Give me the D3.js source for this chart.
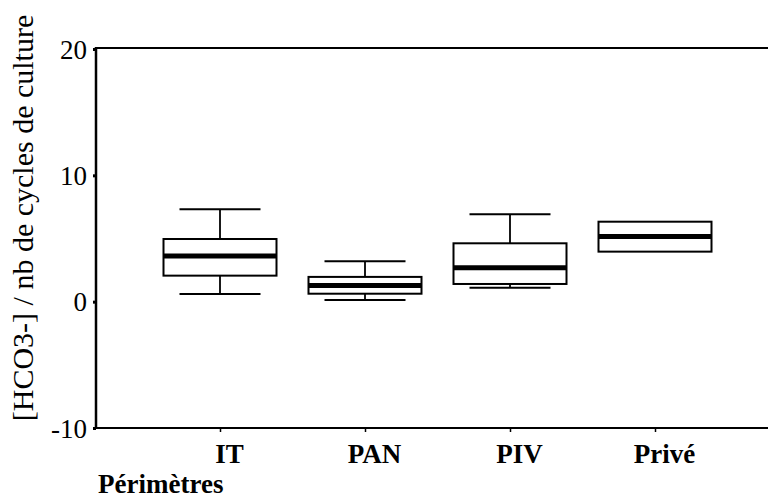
<!DOCTYPE html>
<html><head><meta charset="utf-8">
<script src="https://cdn.jsdelivr.net/npm/d3@7"></script>
<style>body{margin:0;background:#fff}svg{display:block}</style>
</head><body>
<svg id="c" width="768" height="499"></svg>
<script>
const categories = ["IT", "PAN", "PIV", "Privé"];
const whiskerLow = [0.6, 0.13, 1.1, 3.96];
const q1 = [2.06, 0.63, 1.4, 3.96];
const median = [3.62, 1.27, 2.69, 5.15];
const q3 = [4.96, 1.96, 4.62, 6.33];
const whiskerHigh = [7.31, 3.2, 6.92, 6.33];
const yTicks = [20, 10, 0, -10];
const yTitle = "[HCO3-] / nb de cycles de culture";
const xTitle = "Périmètres";

const svg = d3.select("#c");
const serif = "'Liberation Serif','Times New Roman',serif";
const y = d3.scaleLinear().domain([-10, 20]).range([428, 49]);
const xBox = d3.scalePoint().domain(categories).range([220, 655]);
const boxW = 113, capW = 81;
const axisX = 96;

// frame lines
svg.append("line").attr("x1", axisX).attr("x2", 768).attr("y1", y(20) - 1).attr("y2", y(20) - 1)
  .attr("stroke", "#000").attr("stroke-width", 2.2);
svg.append("line").attr("x1", axisX).attr("x2", 768).attr("y1", y(-10)).attr("y2", y(-10))
  .attr("stroke", "#000").attr("stroke-width", 2.2);
svg.append("line").attr("x1", axisX).attr("x2", axisX).attr("y1", y(20) - 2).attr("y2", y(-10) + 1)
  .attr("stroke", "#000").attr("stroke-width", 2.5);

// y ticks
const yAxis = d3.axisLeft(y).tickValues(yTicks).tickSize(3).tickPadding(6)
  .tickFormat(d => (d < 0 ? "-" : "") + Math.abs(d));
const gy = svg.append("g").attr("transform", `translate(${axisX},0)`).call(yAxis);
gy.select(".domain").remove();
gy.selectAll(".tick line").attr("stroke", "#000").attr("stroke-width", 3);
gy.selectAll(".tick text").attr("font-family", serif).attr("font-size", 27)
  .attr("fill", "#000").attr("dy", "0.34em");

// x axis
const xAxis = d3.axisBottom(xBox).tickSize(3).tickPadding(12);
const gx = svg.append("g").attr("transform", `translate(0,${y(-10) + 1})`).call(xAxis);
gx.select(".domain").remove();
gx.selectAll(".tick line").attr("stroke", "#000").attr("stroke-width", 1.5);
gx.selectAll(".tick text").attr("font-family", serif).attr("font-size", 27)
  .attr("font-weight", "bold").attr("fill", "#000").attr("dx", 9).attr("dy", "0.72em");

// boxes
const data = categories.map((c, i) => ({c, lo: whiskerLow[i], q1: q1[i], med: median[i], q3: q3[i], hi: whiskerHigh[i]}));
const g = svg.append("g").selectAll("g").data(data).join("g");
g.filter(d => d.hi > d.q3).append("line")
  .attr("x1", d => xBox(d.c)).attr("x2", d => xBox(d.c)).attr("y1", d => y(d.hi)).attr("y2", d => y(d.q3))
  .attr("stroke", "#000").attr("stroke-width", 1.8);
g.filter(d => d.lo < d.q1).append("line")
  .attr("x1", d => xBox(d.c)).attr("x2", d => xBox(d.c)).attr("y1", d => y(d.q1)).attr("y2", d => y(d.lo))
  .attr("stroke", "#000").attr("stroke-width", 1.8);
g.filter(d => d.hi > d.q3).append("line")
  .attr("x1", d => xBox(d.c) - capW / 2).attr("x2", d => xBox(d.c) + capW / 2)
  .attr("y1", d => y(d.hi)).attr("y2", d => y(d.hi)).attr("stroke", "#000").attr("stroke-width", 2);
g.filter(d => d.lo < d.q1).append("line")
  .attr("x1", d => xBox(d.c) - capW / 2).attr("x2", d => xBox(d.c) + capW / 2)
  .attr("y1", d => y(d.lo)).attr("y2", d => y(d.lo)).attr("stroke", "#000").attr("stroke-width", 2);
g.append("rect")
  .attr("x", d => xBox(d.c) - boxW / 2).attr("width", boxW)
  .attr("y", d => y(d.q3)).attr("height", d => y(d.q1) - y(d.q3))
  .attr("fill", "#fff").attr("stroke", "#000").attr("stroke-width", 2);
g.append("line")
  .attr("x1", d => xBox(d.c) - boxW / 2).attr("x2", d => xBox(d.c) + boxW / 2)
  .attr("y1", d => y(d.med)).attr("y2", d => y(d.med)).attr("stroke", "#000").attr("stroke-width", 5);

// titles
svg.append("text").attr("transform", "translate(33,218) rotate(-90)")
  .attr("text-anchor", "middle").attr("font-family", serif).attr("font-size", 30).attr("fill", "#000")
  .text(yTitle);
svg.append("text").attr("x", 98).attr("y", 493)
  .attr("font-family", serif).attr("font-size", 27).attr("font-weight", "bold").attr("fill", "#000")
  .text(xTitle);
</script>
</body></html>
